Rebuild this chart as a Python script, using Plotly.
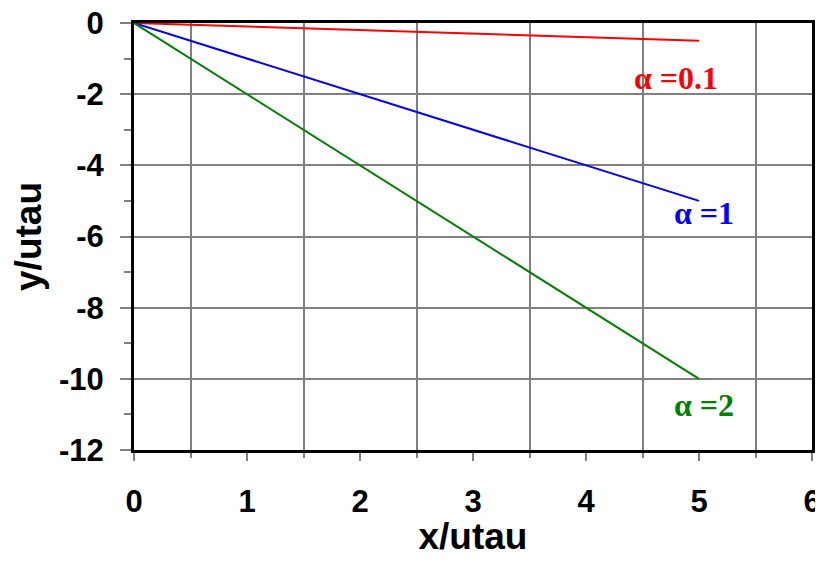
import plotly.graph_objects as go

x_vals = [0, 5]
alpha_labels = ["α =0.1", "α =1", "α =2"]
y_alpha_01 = [0, -0.5]
y_alpha_1 = [0, -5]
y_alpha_2 = [0, -10]
colors = ["#FF0000", "#0000FF", "#008000"]
x_ticks = [0, 1, 2, 3, 4, 5, 6]
y_ticks = [0, -2, -4, -6, -8, -10, -12]

fig = go.Figure()
for yv, c in zip([y_alpha_01, y_alpha_1, y_alpha_2], colors):
    fig.add_trace(go.Scatter(x=x_vals, y=yv, mode="lines",
                             line=dict(color=c, width=2), showlegend=False,
                             cliponaxis=False))

label_pos = [(4.8, -1.55), (5.04, -5.33), (5.04, -10.73)]
for (lx, ly), txt, c in zip(label_pos, alpha_labels, colors):
    fig.add_annotation(x=lx, y=ly, text="<b>" + txt + "</b>", showarrow=False,
                       font=dict(family="Liberation Serif, Times New Roman, serif",
                                 size=32, color=c))

grid_c = "#808080"
tick_font = dict(family="Arial, Liberation Sans", size=31, color="black", weight="bold")
title_font = dict(family="Arial, Liberation Sans", size=37, color="black", weight="bold")
# the page body adds an 8px margin; size the figure so it fits the visible page
fig.update_layout(
    width=807, height=549,
    margin=dict(l=126, r=3, t=15, b=107),
    plot_bgcolor="white", paper_bgcolor="white",
    xaxis=dict(range=[0, 6], tickvals=x_ticks, ticktext=[str(v) for v in x_ticks],
               automargin=False, ticklabeloverflow="allow",
               showgrid=False, zeroline=False,
               showline=True, linecolor="black", linewidth=3, mirror=True,
               ticks="outside", ticklen=8, tickwidth=2, tickcolor=grid_c,
               ticklabelstandoff=14,
               tickfont=tick_font,
               minor=dict(tick0=0.5, dtick=1, showgrid=True, gridcolor=grid_c, gridwidth=2,
                          ticks="outside", ticklen=5, tickwidth=2, tickcolor=grid_c),
               title=dict(text="x/utau", standoff=12, font=title_font)),
    yaxis=dict(range=[-12, 0], tickvals=y_ticks, ticktext=[str(v) for v in y_ticks],
               automargin=False, ticklabeloverflow="allow",
               showgrid=True, gridcolor=grid_c, gridwidth=2, zeroline=False,
               showline=True, linecolor="black", linewidth=3, mirror=True,
               ticks="outside", ticklen=11, tickwidth=2, tickcolor=grid_c,
               ticklabelstandoff=10,
               tickfont=tick_font,
               minor=dict(tick0=-1, dtick=2, showgrid=False,
                          ticks="outside", ticklen=7, tickwidth=2, tickcolor=grid_c),
               title=dict(text="y/utau", standoff=13, font=title_font)),
)

fig.write_html("out.html")
